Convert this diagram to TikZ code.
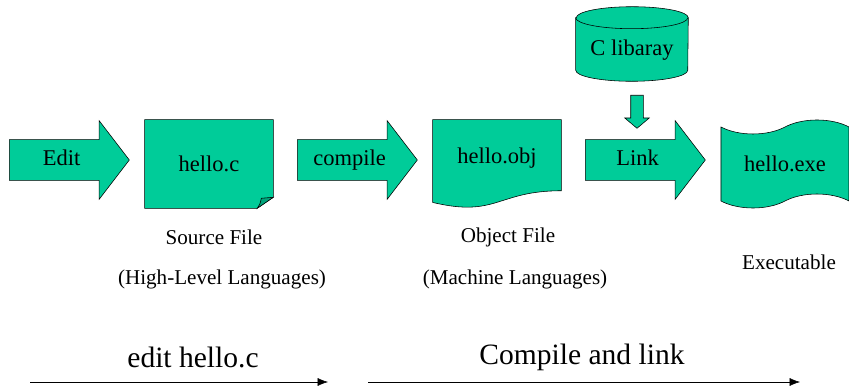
\documentclass[tikz,border=0pt]{standalone}
\usepackage{fontspec}
\setmainfont{Liberation Serif}
\usepackage{tikz}
\usetikzlibrary{shapes.arrows,shapes.symbols,arrows.meta,calc}

\definecolor{tealfill}{HTML}{00CC99}

\begin{document}
\begin{tikzpicture}[x=0.025cm,y=-0.025cm,
		every node/.style={font=\fontsize{16}{19}\selectfont},
		blockarrow/.style={single arrow,draw,fill=tealfill,anchor=tail,
			minimum height=3cm,text height=0.4cm,text depth=0.1cm,inner xsep=1pt,inner ysep=0.25cm,
			single arrow head extend=0.475cm,single arrow tip angle=105},
		filebox/.style={minimum width=3.2cm,minimum height=2.2cm},
		caption/.style={font=\fontsize{15}{18}\selectfont},
		stage/.style={font=\fontsize{21}{25}\selectfont},
		timeline/.style={-{Latex[length=0.26cm,width=0.2cm]},thin}]
	\useasboundingbox (0,0) rectangle (849,392);

	\node[blockarrow] (edit) at (9,160) {Edit};
	\node[filebox] (src) at (209,164) {};
	\draw[fill=tealfill] (src.north west) -- (src.north east) -- ($(src.south east)+(0,-11)$)
		-- ($(src.south east)+(-16,0)$) -- (src.south west) -- cycle;
	\draw[fill=tealfill!80!black] ($(src.south east)+(-16,0)$) .. controls ($(src.south east)+(-13,-5)$) .. ($(src.south east)+(-12,-10)$)
		-- ($(src.south east)+(0,-11)$) -- cycle;
	\node at (src) {hello.c};

	\node[blockarrow] (compile) at (297,160) {compile};
	\node[filebox] (obj) at (497,164) {};
	\draw[fill=tealfill] (obj.north west) -- (obj.north east) -- ($(obj.north east)!0.802!(obj.south east)$)
		.. controls ($(obj.north)!0.802!(obj.south)$) and ($(obj.north)!1.107!(obj.south)$) .. ($(obj.north west)!0.934!(obj.south west)$) -- cycle;
	\node at (497,158) {hello.obj};

	\node[minimum width=2.8cm,minimum height=1.3cm] (clib) at (632,44) {};
	\draw[fill=tealfill] (clib.north west) -- (clib.south west) arc (180:360:1.4cm and 0.275cm)
		-- (clib.north east) arc (0:180:1.4cm and 0.275cm) -- cycle;
	\draw (clib.north west) arc (180:360:1.4cm and 0.275cm);
	\node at (632,50) {C libaray};
	\node[single arrow,draw,fill=tealfill,rotate=-90,anchor=tail,minimum height=0.825cm,inner xsep=0pt,inner ysep=0.15cm,
		single arrow head extend=0.15cm,single arrow tip angle=100] (libin) at (637,95) {};
	\node[blockarrow] (link) at (585,160) {Link};
	\node[tape,draw,fill=tealfill,filebox,tape bend top=in and out,tape bend bottom=in and out,tape bend height=0.35cm] (exe) at (785,164) {hello.exe};

	\node[caption] (srcname) at (214,237) {Source File};
	\node[caption] (srclang) at (222,279) {(High-Level Languages)};
	\node[caption] (objname) at (508,237) {Object File};
	\node[caption] (objlang) at (515,279) {(Machine Languages)};
	\node[caption] (exename) at (789,262) {Executable};

	\coordinate (e0) at (30,382);
	\coordinate (e1) at (328,382);
	\coordinate (c0) at (368,382);
	\coordinate (c1) at (800,382);
	\node[stage] (edittxt) at (193,357) {edit hello.c};
	\node[stage] (comptxt) at (582,357) {Compile and link};
	\draw[timeline] (e0) -- (e1);
	\draw[timeline] (c0) -- (c1);
\end{tikzpicture}
\end{document}
